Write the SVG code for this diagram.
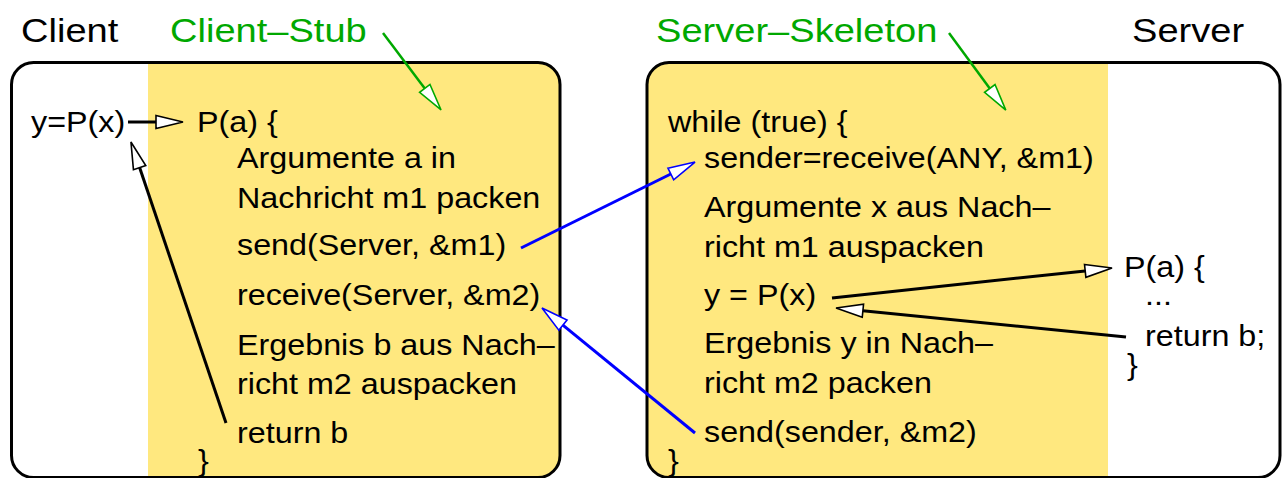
<svg xmlns="http://www.w3.org/2000/svg" width="1284" height="478" viewBox="0 0 1284 478">
<style>
text{font-family:"Liberation Sans",Arial,Helvetica,sans-serif;fill:#000}
.h{font-size:34px}
.b{font-size:30px}
.g{fill:#00a800}
.box{fill:none;stroke:#000;stroke-width:3}
.yel{fill:#ffe87f}
.k{fill:none;stroke:#000;stroke-width:3}
.bl{fill:none;stroke:#0000ff;stroke-width:3}
.gr{fill:none;stroke:#00a800;stroke-width:2.5}
</style>
<defs>
<clipPath id="cl"><rect x="11.5" y="62.5" width="548.5" height="415" rx="22"/></clipPath>
<clipPath id="cs"><rect x="647" y="62.5" width="633" height="415" rx="22"/></clipPath>
<marker id="hk" markerUnits="userSpaceOnUse" viewBox="-2 -9 32 18" markerWidth="32" markerHeight="18" refX="0" refY="0" orient="auto"><path d="M0,-6.5 L27,0 L0,6.5 Z" fill="#fff" stroke="#000" stroke-width="1.6"/></marker>
<marker id="hb" markerUnits="userSpaceOnUse" viewBox="-2 -9 32 18" markerWidth="32" markerHeight="18" refX="0" refY="0" orient="auto"><path d="M0,-6.5 L27,0 L0,6.5 Z" fill="#fff" stroke="#0000ff" stroke-width="1.6"/></marker>
<marker id="hg" markerUnits="userSpaceOnUse" viewBox="-2 -9 32 18" markerWidth="32" markerHeight="18" refX="0" refY="0" orient="auto"><path d="M0,-6.5 L27,0 L0,6.5 Z" fill="#fff" stroke="#00a800" stroke-width="1.6"/></marker>
</defs>

<g id="labels">
<text class="h" transform="translate(21,42) scale(1.12,1)">Client</text>
<text class="h g" transform="translate(170,42) scale(1.12,1)">Client–Stub</text>
<text class="h g" transform="translate(656,42) scale(1.12,1)">Server–Skeleton</text>
<text class="h" transform="translate(1132,42) scale(1.12,1)">Server</text>
</g>

<g id="client">
<rect class="yel" x="148" y="60" width="415" height="420" clip-path="url(#cl)"/>
<rect class="box" x="11.5" y="62.5" width="548.5" height="415" rx="22"/>
<text class="b" transform="translate(31,132) scale(1.077,1)">y=P(x)</text>
</g>

<g id="client-stub">
<text class="b" transform="translate(197,132) scale(1.077,1)">P(a) {</text>
<text class="b" transform="translate(237,168) scale(1.077,1)">Argumente a in</text>
<text class="b" transform="translate(237,208) scale(1.077,1)">Nachricht m1 packen</text>
<text class="b" transform="translate(237,255) scale(1.077,1)">send(Server, &amp;m1)</text>
<text class="b" transform="translate(237,305) scale(1.077,1)">receive(Server, &amp;m2)</text>
<text class="b" transform="translate(237,355) scale(1.077,1)">Ergebnis b aus Nach–</text>
<text class="b" transform="translate(237,394) scale(1.077,1)">richt m2 auspacken</text>
<text class="b" transform="translate(237,443) scale(1.077,1)">return b</text>
<text class="b" transform="translate(198,471) scale(1.077,1)">}</text>
</g>

<g id="server">
<rect class="yel" x="640" y="60" width="468" height="420" clip-path="url(#cs)"/>
<rect class="box" x="647" y="62.5" width="633" height="415" rx="22"/>
</g>

<g id="server-skeleton">
<text class="b" transform="translate(668,132) scale(1.077,1)">while (true) {</text>
<text class="b" transform="translate(704,168) scale(1.077,1)">sender=receive(ANY, &amp;m1)</text>
<text class="b" transform="translate(704,217) scale(1.077,1)">Argumente x aus Nach–</text>
<text class="b" transform="translate(704,257) scale(1.077,1)">richt m1 auspacken</text>
<text class="b" transform="translate(704,305) scale(1.077,1)">y = P(x)</text>
<text class="b" transform="translate(704,353) scale(1.077,1)">Ergebnis y in Nach–</text>
<text class="b" transform="translate(704,393) scale(1.077,1)">richt m2 packen</text>
<text class="b" transform="translate(704,442) scale(1.077,1)">send(sender, &amp;m2)</text>
<text class="b" transform="translate(668,471) scale(1.077,1)">}</text>
</g>

<g id="server-procedure">
<text class="b" transform="translate(1124,277) scale(1.077,1)">P(a) {</text>
<text class="b" transform="translate(1145,305) scale(1.077,1)">...</text>
<text class="b" transform="translate(1145,346) scale(1.077,1)">return b;</text>
<text class="b" transform="translate(1127,375) scale(1.077,1)">}</text>
</g>

<g id="connectors">
<path class="k" d="M128,122 L156,122" marker-end="url(#hk)"/>
<path class="k" d="M226,423 L139.6,167.6" marker-end="url(#hk)"/>
<path class="gr" d="M383,33 L424.8,88.4" marker-end="url(#hg)"/>
<path class="gr" d="M949,33 L989.8,88.4" marker-end="url(#hg)"/>
<path class="bl" d="M521,248 L670.8,174" marker-end="url(#hb)"/>
<path class="bl" d="M695,433 L562.9,325.1" marker-end="url(#hb)"/>
<path class="k" d="M832,298 L1085.2,270.9" marker-end="url(#hk)"/>
<path class="k" d="M1126,337 L862.9,310.7" marker-end="url(#hk)"/>
</g>
</svg>
